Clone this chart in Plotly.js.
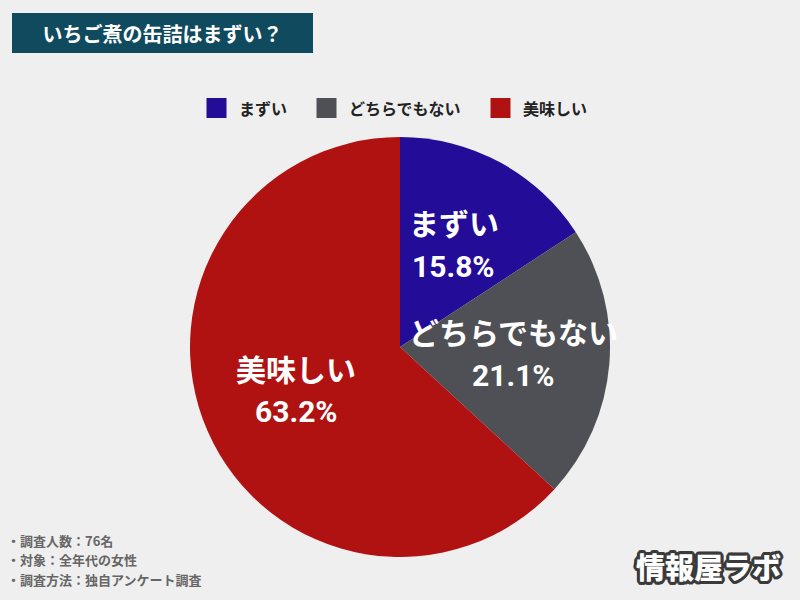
<!DOCTYPE html>
<html><head><meta charset="utf-8">
<script src="https://cdn.plot.ly/plotly-3.0.1.min.js"></script>
<style>html,body{margin:0;padding:0;background:#efefef;}</style>
</head><body>
<div id="chart" style="width:800px;height:600px;"></div>
<script>
const categories = ["まずい", "どちらでもない", "美味しい"];
const counts = [12, 16, 48];
const colors = ["#220c98", "#4f5055", "#b01212"];
const titleText = "いちご煮の缶詰はまずい？";
const notes = ["・調査人数：76名", "・対象：全年代の女性", "・調査方法：独自アンケート調査"];
const logoText = "情報屋ラボ";

const W = 800, H = 600;
const JP = "'Noto Sans CJK JP', sans-serif";
const NUM = "Roboto, 'Noto Sans CJK JP', sans-serif";
// pie geometry (pixels)
const CX = 400, CY = 347, R = 210;
const px = x => x / W, py = y => 1 - y / H;

const trace = {
  type: "pie",
  labels: categories,
  values: counts,
  sort: false,
  direction: "clockwise",
  rotation: 0,
  marker: {colors: colors, line: {width: 0}},
  textinfo: "none",
  hoverinfo: "none",
  showlegend: false,
  domain: {x: [px(CX - R), px(CX + R)], y: [py(CY + R), py(CY - R)]}
};

const annotations = [];
const shapes = [];

// title box
annotations.push({text: titleText, xref: "paper", yref: "paper", x: px(12), y: py(13), xanchor: "left", yanchor: "top",
  showarrow: false, bgcolor: "#0f4a5e", borderpad: 1, borderwidth: 0, width: 299, height: 38, align: "center", valign: "middle",
  font: {family: JP, size: 20, color: "#ffffff", weight: 700}});

// slice labels placed at the mid-angle of each slice
const total = counts.reduce((a, b) => a + b, 0);
let cum = 0;
counts.forEach((v, i) => {
  const frac = v / total;
  const mid = (cum + frac / 2) * 2 * Math.PI;
  cum += frac;
  const k = 0.54;
  const x = CX + R * k * Math.sin(mid);
  const y = CY - R * k * Math.cos(mid) - 3;
  annotations.push({text: categories[i], xref: "paper", yref: "paper", x: px(x), y: py(y - 22),
    xanchor: "center", yanchor: "middle", showarrow: false,
    font: {family: JP, size: 30, color: "#ffffff", weight: 700}});
  annotations.push({text: (frac * 100).toFixed(1) + "%", xref: "paper", yref: "paper", x: px(x), y: py(y + 22),
    xanchor: "center", yanchor: "middle", showarrow: false,
    font: {family: NUM, size: 30, color: "#ffffff", weight: 700}});
});

// custom legend (large square swatches)
const legFont = 16, sw = 20, gapText = 11, gapItem = 31;
const widths = categories.map(c => sw + gapText + legFont * c.length);
const legTotal = widths.reduce((a, b) => a + b, 0) + gapItem * (categories.length - 1);
let lx = 396 - legTotal / 2;
const ly = 108;
categories.forEach((c, i) => {
  shapes.push({type: "rect", xref: "paper", yref: "paper", x0: px(lx), x1: px(lx + sw), y0: py(ly + sw / 2), y1: py(ly - sw / 2),
    fillcolor: colors[i], line: {width: 0}});
  annotations.push({text: c, xref: "paper", yref: "paper", x: px(lx + sw + gapText - 1), y: py(ly), xanchor: "left", yanchor: "middle",
    showarrow: false, font: {family: JP, size: legFont, color: "#222222", weight: 700}});
  lx += widths[i] + gapItem;
});

// notes
notes.forEach((t, i) => {
  annotations.push({text: t, xref: "paper", yref: "paper", x: px(5), y: py(540 + i * 19.5),
    xanchor: "left", yanchor: "middle", showarrow: false,
    font: {family: JP, size: 13, color: "#666666", weight: 700}});
});

// logo: white text with a dark outline made by text-shadow
const o = "#3a3a3a";
const sh = [];
for (let a = 0; a < 16; a++) {
  const t = a / 16 * 2 * Math.PI;
  sh.push(`${(3 * Math.cos(t)).toFixed(2)}px ${(3 * Math.sin(t)).toFixed(2)}px 0 ${o}`);
}
annotations.push({text: logoText, xref: "paper", yref: "paper", x: px(783), y: py(566), xanchor: "right", yanchor: "middle",
  showarrow: false, font: {family: JP, size: 29, color: "#ffffff", weight: 900, shadow: sh.join(", ")}});

const layout = {
  width: W, height: H,
  margin: {l: 0, r: 0, t: 0, b: 0},
  paper_bgcolor: "#efefef",
  plot_bgcolor: "#efefef",
  showlegend: false,
  annotations: annotations,
  shapes: shapes
};
Plotly.newPlot("chart", [trace], layout, {displayModeBar: false, staticPlot: true});
</script>
</body></html>
